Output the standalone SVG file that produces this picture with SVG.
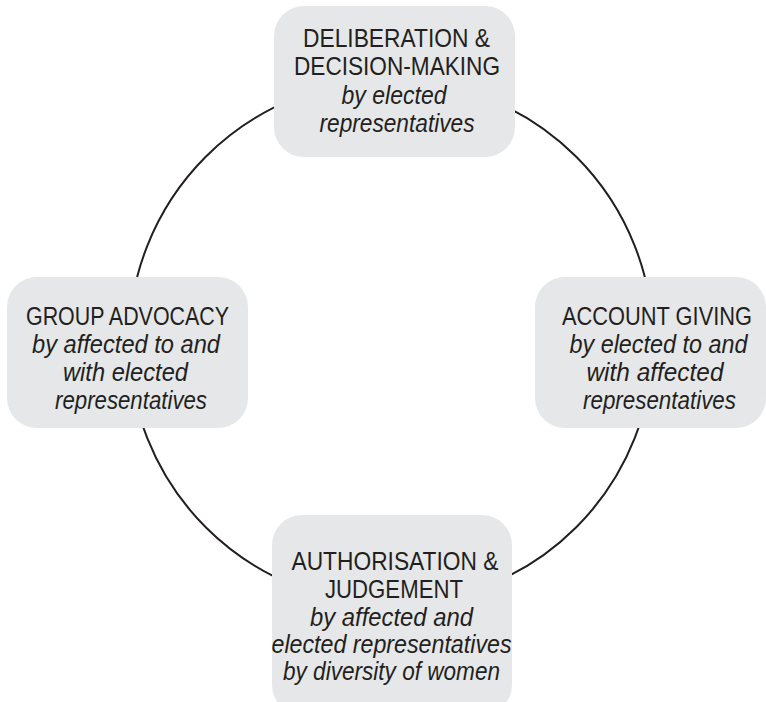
<svg xmlns="http://www.w3.org/2000/svg" width="766" height="702" viewBox="0 0 766 702">
  <style>
    .box { fill: #e6e7e8; }
    .ring { fill: none; stroke: #231f20; stroke-width: 2; }
    text { font-family: "Liberation Sans", Arial, sans-serif; font-size: 25px; fill: #231f20; text-anchor: middle; }
    .sub { font-style: italic; }
  </style>
  <rect width="766" height="702" fill="#ffffff"/>

  <!-- cycle ring behind the stages -->
  <g id="connectors">
    <circle class="ring" cx="391" cy="342" r="262"/>
  </g>

  <g id="deliberation">
    <rect class="box" x="274" y="6" width="241" height="151" rx="30"/>
    <text x="396.5" y="47" textLength="187" lengthAdjust="spacingAndGlyphs">DELIBERATION &amp;</text>
    <text x="397" y="75" textLength="206" lengthAdjust="spacingAndGlyphs">DECISION-MAKING</text>
    <text class="sub" x="394" y="104" textLength="105" lengthAdjust="spacingAndGlyphs">by elected</text>
    <text class="sub" x="397" y="132" textLength="155" lengthAdjust="spacingAndGlyphs">representatives</text>
  </g>

  <g id="group-advocacy">
    <rect class="box" x="7" y="277" width="241" height="151" rx="30"/>
    <text x="127.5" y="325" textLength="203" lengthAdjust="spacingAndGlyphs">GROUP ADVOCACY</text>
    <text class="sub" x="126" y="353" textLength="188" lengthAdjust="spacingAndGlyphs">by affected to and</text>
    <text class="sub" x="125.5" y="381" textLength="125" lengthAdjust="spacingAndGlyphs">with elected</text>
    <text class="sub" x="131" y="409" textLength="152" lengthAdjust="spacingAndGlyphs">representatives</text>
  </g>

  <g id="account-giving">
    <rect class="box" x="535" y="277" width="231" height="151" rx="30"/>
    <text x="657" y="325" font-size="24" textLength="190" lengthAdjust="spacingAndGlyphs">ACCOUNT GIVING</text>
    <text class="sub" x="658.5" y="353" textLength="178" lengthAdjust="spacingAndGlyphs">by elected to and</text>
    <text class="sub" x="655" y="381" textLength="137" lengthAdjust="spacingAndGlyphs">with affected</text>
    <text class="sub" x="659.5" y="409" textLength="153" lengthAdjust="spacingAndGlyphs">representatives</text>
  </g>

  <g id="authorisation">
    <rect class="box" x="272" y="515" width="240" height="200" rx="30"/>
    <text x="395" y="570" textLength="207" lengthAdjust="spacingAndGlyphs">AUTHORISATION &amp;</text>
    <text x="394" y="598" textLength="138" lengthAdjust="spacingAndGlyphs">JUDGEMENT</text>
    <text class="sub" x="391.5" y="626" textLength="163" lengthAdjust="spacingAndGlyphs">by affected and</text>
    <text class="sub" x="391.5" y="653" textLength="240" lengthAdjust="spacingAndGlyphs">elected representatives</text>
    <text class="sub" x="391.5" y="680" textLength="217" lengthAdjust="spacingAndGlyphs">by diversity of women</text>
  </g>
</svg>
